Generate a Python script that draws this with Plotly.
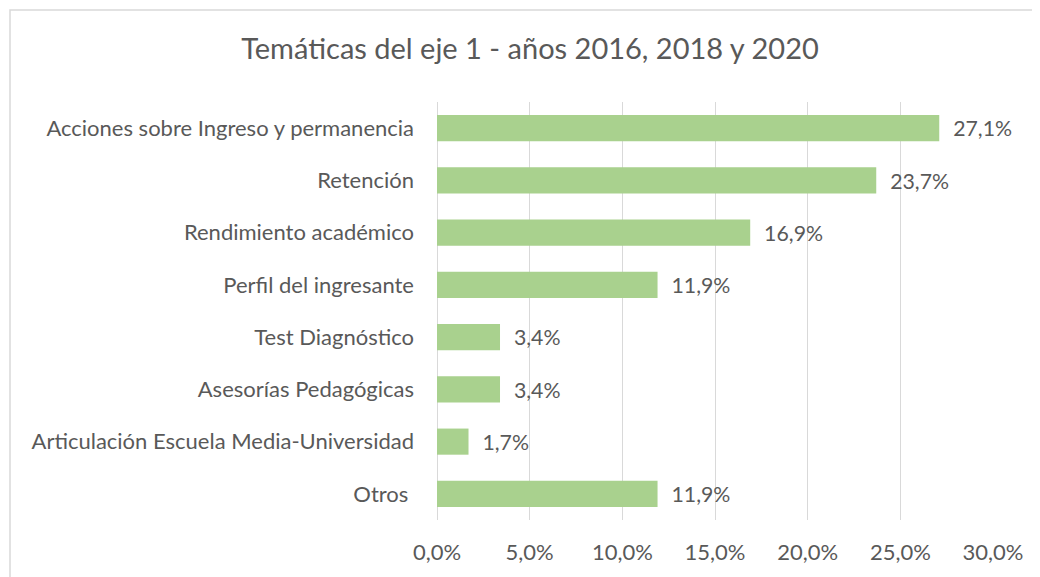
import plotly.graph_objects as go

categories = [
    "Acciones sobre Ingreso y permanencia",
    "Retención",
    "Rendimiento académico",
    "Perfil del ingresante",
    "Test Diagnóstico",
    "Asesorías Pedagógicas",
    "Articulación Escuela Media-Universidad",
    "Otros\u00a0",
]
values = [27.1, 23.7, 16.9, 11.9, 3.4, 3.4, 1.7, 11.9]
tick_values = [0, 5, 10, 15, 20, 25, 30]
tick_labels = ["0,0%", "5,0%", "10,0%", "15,0%", "20,0%", "25,0%", "30,0%"]

OFF = 8  # page body margin
W, H = 1040, 577
L = 437 - OFF
T = 102 - OFF
R = W - (993 - OFF)
B = H - (520 - OFF)
pw, ph = W - L - R, H - T - B

FONT = "Lato, Carlito, Calibri, sans-serif"
GREY = "#595959"

fig = go.Figure()
fig.add_trace(go.Bar(
    y=categories,
    x=values,
    orientation="h",
    marker=dict(color="#A9D18E", line=dict(width=0)),
    width=0.5,
    text=values,
    texttemplate="  %{x:.1f}%",
    textposition="outside",
    textfont=dict(family=FONT, size=22, color=GREY),
    cliponaxis=False,
))

def px_x(p):
    return (p - OFF - L) / pw

def px_y(p):
    return (H - B - (p - OFF)) / ph

fig.add_shape(type="rect", xref="paper", yref="paper",
              x0=px_x(10), x1=px_x(1080), y0=px_y(620), y1=px_y(10),
              line=dict(color="#D9D9D9", width=1.5), fillcolor="rgba(0,0,0,0)", layer="below")

fig.update_layout(
    width=W, height=H,
    margin=dict(l=L, r=R, t=T, b=B),
    paper_bgcolor="white", plot_bgcolor="white",
    separators=",.",
    title=dict(text="Temáticas del eje 1 - años 2016, 2018 y 2020",
               x=(530 - OFF) / W, xref="container", xanchor="center",
               y=1 - (49 - OFF) / H, yanchor="middle",
               font=dict(family=FONT, size=29, color=GREY)),
    xaxis=dict(range=[0, 30], tickvals=tick_values, ticktext=tick_labels,
               showgrid=True, gridcolor="#D9D9D9", gridwidth=1,
               zeroline=True, zerolinecolor="#D9D9D9", zerolinewidth=1,
               showline=False, ticks="", ticklabelstandoff=17,
               tickfont=dict(family=FONT, size=22, color=GREY)),
    yaxis=dict(categoryorder="array", categoryarray=categories[::-1],
               autorange=False, range=[-0.5, 7.5],
               showgrid=False, zeroline=False, showline=False, ticks="",
               ticklabelstandoff=22,
               tickfont=dict(family=FONT, size=22, color=GREY)),
    showlegend=False,
    bargap=0.5,
)

fig.write_html("out.html")
